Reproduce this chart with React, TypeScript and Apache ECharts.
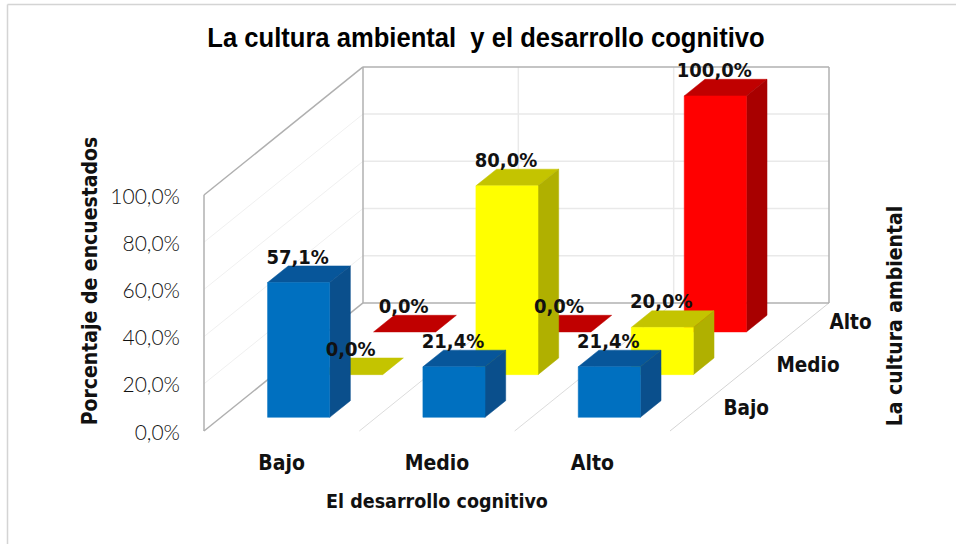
import React, { useEffect, useRef } from "react";
import * as echarts from "echarts";

const chartTitle = "La cultura ambiental  y el desarrollo cognitivo";
const cognitiveLevels = ["Bajo", "Medio", "Alto"];
const environmentLevels = ["Bajo", "Medio", "Alto"];
const percentTicks = [0, 20, 40, 60, 80, 100];

const bajoValues = [57.1, 21.4, 21.4];
const medioValues = [0, 80, 20];
const altoValues = [0, 0, 100];

const bajoColors = { front: "#0070c0", top: "#07569a", side: "#0a4f8c" };
const medioColors = { front: "#ffff00", top: "#c4c400", side: "#b0b000" };
const altoColors = { front: "#ff0000", top: "#c00000", side: "#a80000" };

const labelFont = "'DejaVu Sans Condensed', 'DejaVu Sans', sans-serif";

// Oblique projection of the depth axis: screen offset of one full row.
const ROW_DX = 53;
const ROW_DY = -42.7;
const ROW_COUNT = environmentLevels.length;
const BAR_FRONT_OFFSET = 0.32; // gap before a bar inside its row
const BAR_DEPTH = 0.39; // bar depth as a share of the row
const BAR_WIDTH = 0.4; // bar width as a share of the category band

const project = (p: number[], depth: number) => [p[0] + ROW_DX * depth, p[1] + ROW_DY * depth];
const fmt = (v: number) => v.toFixed(1).replace(".", ",") + "%";

const line = (a: number[], b: number[], stroke: string, lineWidth = 1) => ({
  type: "line",
  shape: { x1: a[0], y1: a[1], x2: b[0], y2: b[1] },
  style: { stroke, lineWidth },
});

// Walls and floor of the 3D box, built once from the axis scales.
function renderBox(params: any, api: any) {
  if (params.dataIndex !== 0) return { type: "group", children: [] };
  const n = cognitiveLevels.length;
  const band = api.size([1, 0])[0];
  const left = api.coord([0, 0])[0] - band / 2;
  const yOf = (v: number) => api.coord([0, v])[1];
  const y0 = yOf(0);
  const y100 = yOf(100);
  const right = left + band * n;
  const kids: any[] = [];
  const grid = "#e9e9e9";
  const edge = "#b0b0b0";
  percentTicks.slice(1, -1).forEach((t) => {
    const a = [left, yOf(t)];
    const b = project(a, ROW_COUNT);
    kids.push(line(a, b, "#f0f0f0"));
    kids.push(line(b, project([right, yOf(t)], ROW_COUNT), grid, 1.5));
  });
  for (let i = 1; i < n; i++) {
    const x = left + band * i;
    kids.push(line(project([x, y0], ROW_COUNT), project([x, y100], ROW_COUNT), grid, 1.5));
  }
  for (let i = 1; i <= n; i++) {
    const x = left + band * i;
    kids.push(line([x, y0], project([x, y0], ROW_COUNT), i === n ? "#d4d4d4" : "#dcdcdc"));
  }
  kids.push(line([left, y0], [left, y100], edge, 1.5));
  kids.push(line([left, y100], project([left, y100], ROW_COUNT), edge, 1.5));
  kids.push(line([left, y0], project([left, y0], ROW_COUNT), edge, 1.5));
  kids.push(line(project([left, y0], ROW_COUNT), project([left, y100], ROW_COUNT), edge, 1.5));
  kids.push(line(project([left, y100], ROW_COUNT), project([right, y100], ROW_COUNT), edge, 1.5));
  kids.push(line(project([left, y0], ROW_COUNT), project([right, y0], ROW_COUNT), edge, 1.5));
  kids.push(line(project([right, y0], ROW_COUNT), project([right, y100], ROW_COUNT), edge, 1.5));
  environmentLevels.forEach((name, i) => {
    const p = project([right, y0], i + 0.5);
    kids.push({
      type: "text",
      x: p[0] + 27,
      y: p[1] - 2,
      style: { text: name, font: `bold 20.5px ${labelFont}`, fill: "#111", textAlign: "left", textVerticalAlign: "middle" },
    });
  });
  return { type: "group", children: kids };
}

const barCorners = (api: any, row: number) => {
  const cat = api.value(0);
  const value = api.value(1);
  const w = api.size([1, 0])[0] * BAR_WIDTH;
  const base = api.coord([cat, 0]);
  const top = api.coord([cat, value]);
  return { base, top, w, start: row + BAR_FRONT_OFFSET, end: row + BAR_FRONT_OFFSET + BAR_DEPTH };
};

const polygon = (points: number[][], fill: string) => ({
  type: "polygon",
  shape: { points },
  style: { fill, stroke: fill, lineWidth: 0.5 },
});

// One depth row of bars: side and top faces in shade, front face in full colour.
const renderBars = (row: number, colors: { front: string; top: string; side: string }) => (_: any, api: any) => {
  const { base, top, w, start, end } = barCorners(api, row);
  const lx = base[0] - w / 2;
  const rx = base[0] + w / 2;
  const fbr = project([rx, base[1]], start);
  const ftr = project([rx, top[1]], start);
  const ftl = project([lx, top[1]], start);
  const fbl = project([lx, base[1]], start);
  const bbr = project([rx, base[1]], end);
  const btr = project([rx, top[1]], end);
  const btl = project([lx, top[1]], end);
  const children: any[] = [polygon([ftl, btl, btr, ftr], colors.top)];
  if (api.value(1) > 0) {
    children.push(polygon([fbr, bbr, btr, ftr], colors.side));
    children.push(polygon([fbl, fbr, ftr, ftl], colors.front));
  }
  return { type: "group", children };
};

// Percentage above each bar; drawn last so it stays over every face.
const renderValueLabel = (row: number) => (_: any, api: any) => {
  const { top, start } = barCorners(api, row);
  const p = project(top, start);
  return {
    type: "text",
    x: p[0] - 1,
    y: p[1] - 26,
    style: { text: fmt(api.value(1)), font: `bold 20px ${labelFont}`, fill: "#111", textAlign: "center", textVerticalAlign: "middle" },
  };
};

const rowSeries = (values: number[], row: number, colors: any) => {
  const data = values.map((v, i) => [i, v]);
  return [
    { type: "custom", coordinateSystem: "cartesian2d", z: 3 + (ROW_COUNT - row), clip: false, silent: true, renderItem: renderBars(row, colors), data },
    { type: "custom", coordinateSystem: "cartesian2d", z: 10, clip: false, silent: true, renderItem: renderValueLabel(row), data },
  ];
};

export default function App() {
  const ref = useRef<HTMLDivElement>(null);
  useEffect(() => {
    const chart = echarts.init(ref.current!, undefined, { renderer: "svg" });
    chart.setOption({
      animation: false,
      backgroundColor: "#ffffff",
      grid: { left: 204, top: 195, width: 466, height: 236, containLabel: false },
      xAxis: {
        type: "category",
        data: cognitiveLevels,
        axisLine: { show: false },
        axisTick: { show: false },
        splitLine: { show: false },
        axisLabel: { margin: 21, fontFamily: labelFont, fontWeight: "bold", fontSize: 21, color: "#111" },
        name: "El desarrollo cognitivo",
        nameLocation: "middle",
        nameGap: 60,
        nameTextStyle: { fontFamily: labelFont, fontWeight: "bold", fontSize: 19.5, color: "#111" },
      },
      yAxis: {
        type: "value",
        min: 0,
        max: 100,
        interval: 20,
        axisLine: { show: false },
        axisTick: { show: false },
        splitLine: { show: false },
        axisLabel: {
          margin: 24,
          fontFamily: "Lato, sans-serif",
          fontWeight: 300,
          fontSize: 21,
          color: "#111",
          formatter: (v: number) => fmt(v),
        },
      },
      graphic: [
        { type: "line", shape: { x1: 7.5, y1: 4.5, x2: 956, y2: 4.5 }, style: { stroke: "#d4d4d4", lineWidth: 1.5 }, z: 0 },
        { type: "line", shape: { x1: 7.5, y1: 4.5, x2: 7.5, y2: 544 }, style: { stroke: "#d4d4d4", lineWidth: 1.5 }, z: 0 },
        {
          type: "text",
          x: 486,
          y: 38,
          scaleX: 0.948,
          style: { text: chartTitle, font: "bold 27px 'Liberation Sans', Arial, sans-serif", fill: "#000", textAlign: "center", textVerticalAlign: "middle" },
        },
        {
          type: "text",
          x: 90,
          y: 281,
          rotation: Math.PI / 2,
          style: { text: "Porcentaje de encuestados", font: `bold 21px ${labelFont}`, fill: "#111", textAlign: "center", textVerticalAlign: "middle" },
        },
        {
          type: "text",
          x: 895,
          y: 316,
          rotation: Math.PI / 2,
          style: { text: "La cultura ambiental", font: `bold 21px ${labelFont}`, fill: "#111", textAlign: "center", textVerticalAlign: "middle" },
        },
      ],
      series: [
        { type: "custom", coordinateSystem: "cartesian2d", z: 1, clip: false, silent: true, renderItem: renderBox, data: cognitiveLevels.map((_, i) => [i, 0]) },
        ...rowSeries(altoValues, 2, altoColors),
        ...rowSeries(medioValues, 1, medioColors),
        ...rowSeries(bajoValues, 0, bajoColors),
      ],
    });
    return () => chart.dispose();
  }, []);
  return <div ref={ref} style={{ position: "fixed", left: 0, top: 0, width: 956, height: 544 }} />;
}
